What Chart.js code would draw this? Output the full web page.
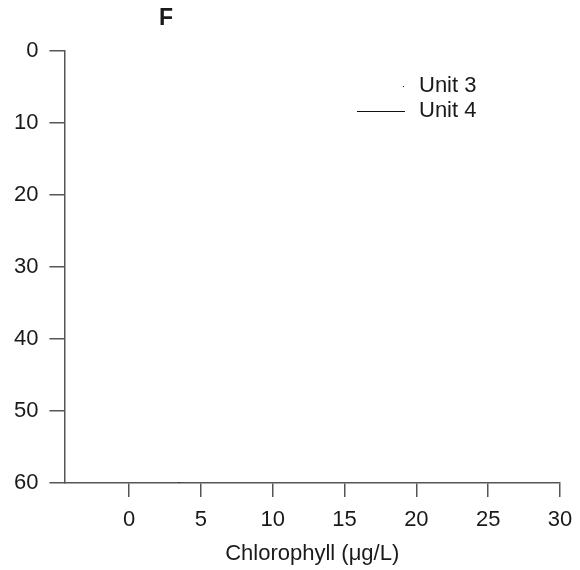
<!DOCTYPE html>
<html>
<head>
<meta charset="utf-8">
<title>F - Chlorophyll</title>
<script src="https://cdn.jsdelivr.net/npm/chart.js@4.4.0/dist/chart.umd.min.js"></script>
<style>
  html, body { margin: 0; padding: 0; background: #fff; }
  #wrap { width: 580px; height: 570px; }
</style>
</head>
<body>
<div id="wrap"><canvas id="chlChart" width="580" height="570"></canvas></div>
<script>
(function () {
  "use strict";

  // data (depth in m vs chlorophyll)
  var panelLabel = "F";
  var seriesNames = ["Unit 3", "Unit 4"];
  var unit3Chl = [3.5];
  var unit3Depth = [60];
  var unit4Chl = [];
  var unit4Depth = [];
  var xTickValues = [0, 5, 10, 15, 20, 25, 30];
  var yTickValues = [0, 10, 20, 30, 40, 50, 60];
  var xTitle = "Chlorophyll (\u03bcg/L)";

  var FONT = "'Liberation Sans', Arial, Helvetica, sans-serif";
  var INK = "#1a1a1a";
  var AXIS = "#555";

  function pairs(xs, ys) {
    var out = [];
    for (var i = 0; i < xs.length; i++) out.push({ x: xs[i], y: ys[i] });
    return out;
  }

  // panel letter + line legend drawn by hand, like the original figure
  var decor = {
    id: "decor",
    afterDraw: function (chart) {
      var ctx = chart.ctx;
      ctx.save();
      ctx.fillStyle = INK;
      ctx.font = "bold 23px " + FONT;
      ctx.textAlign = "center";
      ctx.textBaseline = "middle";
      ctx.fillText(panelLabel, 166, 19);

      ctx.font = "22px " + FONT;
      ctx.textAlign = "left";
      chart.data.datasets.forEach(function (ds, i) {
        var y = 85 + i * 25;
        ctx.strokeStyle = ds.borderColor;
        ctx.lineWidth = 1;
        ctx.setLineDash(ds.legendDash || []);
        ctx.lineDashOffset = ds.legendDashOffset || 0;
        ctx.beginPath();
        ctx.moveTo(357, y + 1.5);
        ctx.lineTo(405, y + 1.5);
        ctx.stroke();
        ctx.setLineDash([]);
        ctx.fillText(ds.label, 419, y + 1);
      });
      ctx.restore();
    },
  };

  var canvas = document.getElementById("chlChart");
  new Chart(canvas.getContext("2d"), {
    type: "scatter",
    data: {
      datasets: [
        {
          label: seriesNames[0],
          data: pairs(unit3Chl, unit3Depth),
          showLine: true,
          borderColor: "#111",
          backgroundColor: "#111",
          borderWidth: 1,
          borderDash: [1, 3],
          legendDash: [1, 60],
          legendDashOffset: -46,
          pointRadius: 0.8,
          pointBorderWidth: 0,
        },
        {
          label: seriesNames[1],
          data: pairs(unit4Chl, unit4Depth),
          showLine: true,
          borderColor: "#111",
          backgroundColor: "#111",
          borderWidth: 1,
          pointRadius: 0,
        },
      ],
    },
    options: {
      responsive: false,
      animation: false,
      layout: { padding: { top: 51, right: 0, left: 3, bottom: 5 } },
      scales: {
        x: {
          type: "linear",
          min: -4.5,
          max: 30,
          afterBuildTicks: function (axis) {
            axis.ticks = xTickValues.map(function (v) { return { value: v }; });
          },
          afterFit: function (axis) {
            axis.paddingRight = 20; // keep the 30 tick at the same spot as the original
          },
          ticks: { color: INK, padding: 12, font: { family: FONT, size: 22, lineHeight: 1 } },
          grid: { drawOnChartArea: false, tickLength: 14, color: AXIS, lineWidth: 1.5 },
          border: { color: AXIS, width: 1.5 },
          title: {
            display: true,
            text: xTitle,
            color: INK,
            padding: { top: 0, bottom: 0 },
            font: { family: FONT, size: 22, lineHeight: 1 },
          },
        },
        y: {
          type: "linear",
          reverse: true,
          min: 0,
          max: 60,
          afterBuildTicks: function (axis) {
            axis.ticks = yTickValues.map(function (v) { return { value: v }; });
          },
          ticks: { color: INK, padding: 11, font: { family: FONT, size: 22 } },
          grid: { drawOnChartArea: false, tickLength: 15, color: AXIS, lineWidth: 1.5 },
          border: { color: AXIS, width: 1.5 },
        },
      },
      plugins: {
        legend: { display: false },
        tooltip: { enabled: false },
      },
    },
    plugins: [decor],
  });
})();
</script>
</body>
</html>
